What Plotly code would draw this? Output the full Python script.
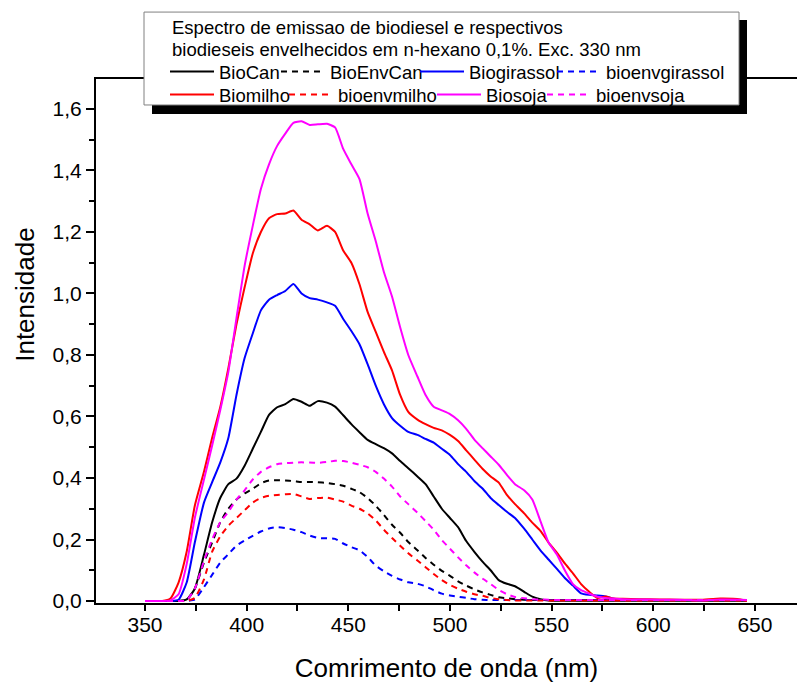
import plotly.graph_objects as go

# Wavelength grid (nm)
wavelength = [350, 354.5, 358.5, 362.5, 366.5, 370.5, 374.5, 379, 383, 387,
              391, 395, 399, 403, 407, 411, 415, 419, 423, 427,
              431, 435, 439.5, 443.5, 447.5, 451.5, 455.5, 459.5, 463.5, 467.5,
              471.5, 475.5, 479.5, 484, 488, 492, 496, 500, 504, 508,
              512, 516, 520, 524, 528, 532, 536.5, 540.5, 544.5, 548.5,
              552.5, 556.5, 560.5, 564.5, 568.5, 572.5, 576.5, 580.5, 585, 593,
              603, 613, 623, 633, 643, 646]

BioCan = [0, 0, 0, 0, 0, 0.005, 0.04, 0.15, 0.255, 0.335,
          0.38, 0.398, 0.44, 0.495, 0.55, 0.605, 0.63, 0.64, 0.657, 0.648,
          0.635, 0.65, 0.645, 0.632, 0.604, 0.575, 0.549, 0.524, 0.51, 0.497,
          0.48, 0.455, 0.432, 0.405, 0.38, 0.34, 0.30, 0.27, 0.24, 0.195,
          0.16, 0.128, 0.10, 0.068, 0.056, 0.048, 0.03, 0.014, 0.006, 0.002,
          0.001, 0.001, 0.001, 0.001, 0.001, 0.001, 0.001, 0.001, 0.001, 0.001,
          0.001, 0.001, 0.001, 0.001, 0.001, 0.001]

BioEnvCan = [0, 0, 0, 0, 0, 0.003, 0.04, 0.125, 0.19, 0.256,
             0.30, 0.33, 0.35, 0.365, 0.383, 0.392, 0.393, 0.392, 0.39, 0.387,
             0.387, 0.386, 0.384, 0.38, 0.375, 0.365, 0.354, 0.335, 0.31, 0.28,
             0.248, 0.222, 0.192, 0.165, 0.14, 0.118, 0.098, 0.082, 0.064, 0.05,
             0.038, 0.028, 0.02, 0.012, 0.009, 0.006, 0.004, 0.003, 0.003, 0.003,
             0.003, 0.003, 0.003, 0.003, 0.003, 0.003, 0.003, 0.003, 0.003, 0.003,
             0.003, 0.003, 0.003, 0.003, 0.003, 0.003]

Biogirassol = [0, 0, 0, 0, 0.004, 0.06, 0.19, 0.32, 0.386, 0.45,
               0.53, 0.67, 0.79, 0.87, 0.945, 0.98, 0.995, 1.008, 1.031, 1.0,
               0.985, 0.98, 0.971, 0.96, 0.917, 0.878, 0.835, 0.77, 0.70, 0.64,
               0.595, 0.57, 0.55, 0.54, 0.527, 0.515, 0.495, 0.475, 0.445, 0.42,
               0.39, 0.366, 0.335, 0.312, 0.29, 0.27, 0.235, 0.20, 0.165, 0.135,
               0.105, 0.075, 0.05, 0.025, 0.02, 0.018, 0.015, 0.007, 0.005, 0.004,
               0.003, 0.003, 0.003, 0.003, 0.003, 0.003]

bioenvgirassol = [0, 0, 0, 0, 0, 0, 0.005, 0.045, 0.085, 0.125,
                  0.152, 0.18, 0.197, 0.212, 0.226, 0.236, 0.24, 0.237, 0.232, 0.224,
                  0.213, 0.205, 0.204, 0.202, 0.187, 0.175, 0.165, 0.143, 0.115, 0.097,
                  0.082, 0.07, 0.061, 0.056, 0.048, 0.035, 0.024, 0.018, 0.014, 0.01,
                  0.006, 0.004, 0.003, 0.003, 0.003, 0.003, 0.003, 0.003, 0.003, 0.003,
                  0.003, 0.003, 0.003, 0.003, 0.003, 0.003, 0.003, 0.003, 0.003, 0.003,
                  0.003, 0.003, 0.003, 0.003, 0.003, 0.003]

Biomilho = [0, 0, 0, 0.008, 0.06, 0.16, 0.31, 0.42, 0.53, 0.63,
            0.757, 0.90, 1.02, 1.13, 1.20, 1.245, 1.258, 1.26, 1.27, 1.24,
            1.225, 1.205, 1.22, 1.20, 1.14, 1.10, 1.03, 0.94, 0.875, 0.81,
            0.75, 0.67, 0.615, 0.59, 0.575, 0.563, 0.555, 0.54, 0.52, 0.49,
            0.46, 0.43, 0.405, 0.385, 0.345, 0.315, 0.285, 0.255, 0.228, 0.19,
            0.158, 0.122, 0.09, 0.055, 0.03, 0.01, 0.015, 0.008, 0.007, 0.006,
            0.005, 0.004, 0.004, 0.008, 0.005, 0.0]

bioenvmilho = [0, 0, 0, 0, 0, 0, 0.01, 0.07, 0.16, 0.21,
               0.245, 0.27, 0.295, 0.32, 0.335, 0.342, 0.345, 0.347, 0.348, 0.34,
               0.332, 0.335, 0.336, 0.33, 0.323, 0.31, 0.30, 0.285, 0.262, 0.232,
               0.205, 0.18, 0.155, 0.132, 0.11, 0.088, 0.068, 0.052, 0.04, 0.03,
               0.022, 0.017, 0.01, 0.006, 0.003, 0.002, 0.002, 0.002, 0.002, 0.002,
               0.002, 0.002, 0.002, 0.002, 0.002, 0.002, 0.002, 0.002, 0.002, 0.002,
               0.002, 0.002, 0.002, 0.002, 0.002, 0.002]

Biosoja = [0, 0, 0, 0.002, 0.022, 0.12, 0.27, 0.395, 0.505, 0.62,
           0.745, 0.92, 1.09, 1.22, 1.34, 1.42, 1.48, 1.52, 1.555, 1.56,
           1.548, 1.55, 1.552, 1.54, 1.47, 1.42, 1.372, 1.26, 1.17, 1.07,
           0.99, 0.89, 0.80, 0.73, 0.67, 0.632, 0.62, 0.608, 0.588, 0.56,
           0.525, 0.497, 0.47, 0.443, 0.41, 0.38, 0.36, 0.33, 0.26, 0.19,
           0.152, 0.10, 0.055, 0.035, 0.024, 0.014, 0.01, 0.008, 0.006, 0.005,
           0.004, 0.004, 0.002, 0.005, 0.004, 0.003]

bioenvsoja = [0, 0, 0, 0, 0, 0.003, 0.04, 0.13, 0.20, 0.256,
              0.29, 0.33, 0.36, 0.395, 0.42, 0.435, 0.445, 0.448, 0.45, 0.451,
              0.45, 0.449, 0.452, 0.456, 0.455, 0.45, 0.443, 0.435, 0.42, 0.398,
              0.372, 0.34, 0.315, 0.287, 0.26, 0.232, 0.198, 0.17, 0.142, 0.116,
              0.093, 0.073, 0.055, 0.036, 0.022, 0.013, 0.009, 0.006, 0.005, 0.004,
              0.003, 0.003, 0.003, 0.003, 0.003, 0.003, 0.003, 0.003, 0.003, 0.003,
              0.003, 0.003, 0.003, 0.003, 0.003, 0.003]

legend_title = ["Espectro de emissao de biodiesel e respectivos",
                "biodieseis envelhecidos em n-hexano 0,1%. Exc. 330 nm"]
x_title = "Comrimento de onda (nm)"
y_title = "Intensidade"

# name, values, colour, dash, legend-entry position in the box (line start px, row centre px)
series = [
    ("BioCan", BioCan, "#000000", "solid", 171, 71),
    ("BioEnvCan", BioEnvCan, "#000000", "6px,5px", 282, 71),
    ("Biogirassol", Biogirassol, "#0000FF", "solid", 421, 71),
    ("bioenvgirassol", bioenvgirassol, "#0000FF", "6px,5px", 558, 71),
    ("Biomilho", Biomilho, "#FF0000", "solid", 171, 94),
    ("bioenvmilho", bioenvmilho, "#FF0000", "6px,5px", 290, 94),
    ("Biosoja", Biosoja, "#FF00FF", "solid", 438, 94),
    ("bioenvsoja", bioenvsoja, "#FF00FF", "6px,5px", 548, 94),
]

FONT = "Liberation Sans, Arial, sans-serif"

W, H = 797, 683
L, R, T, B = 96, 0, 79, 79.5
pw, ph = W - L - R, H - T - B


def px_x(p):
    return (p - L) / pw


def px_y(p):
    return (H - B - p) / ph


legend_font = dict(family=FONT, size=18.5, color="black")
title_font = dict(family=FONT, size=26, color="black")

fig = go.Figure()
legends = {}
for i, (name, vals, color, dash, lx, ly) in enumerate(series):
    key = "legend" if i == 0 else "legend%d" % (i + 1)
    fig.add_trace(go.Scatter(
        x=wavelength, y=vals, name=name, mode="lines",
        line=dict(color=color, width=2, dash=dash, shape="spline", smoothing=0.5),
        legend=key,
    ))
    legends[key] = dict(
        orientation="h", x=px_x(lx - 6), y=px_y(ly - 18), xanchor="left", yanchor="top",
        bgcolor="rgba(0,0,0,0)", borderwidth=0, font=legend_font, itemwidth=44,
    )

fig.update_layout(
    width=W, height=H,
    margin=dict(l=L, r=R, t=T, b=B, pad=0, autoexpand=False),
    paper_bgcolor="white", plot_bgcolor="white",
    separators=", ",
    font=dict(family=FONT, color="black"),
    showlegend=True,
    xaxis=dict(
        range=[325.9, 670.7], showline=True, linecolor="black", linewidth=2, mirror=True,
        ticks="outside", ticklen=6, tickwidth=2, tickcolor="black",
        tick0=350, dtick=50, showgrid=False, zeroline=False,
        minor=dict(dtick=25, ticks="outside", ticklen=6, tickwidth=2, tickcolor="black", showgrid=False),
        tickfont=dict(family=FONT, size=21, color="black"), ticklabelstandoff=-4,
        title=dict(text=x_title, font=title_font, standoff=24),
    ),
    yaxis=dict(
        range=[-0.0065, 1.6975], showline=True, linecolor="black", linewidth=2, mirror=False,
        ticks="outside", ticklen=8, tickwidth=2, tickcolor="black",
        tick0=0, dtick=0.2, tickformat=".1f", showgrid=False, zeroline=False,
        minor=dict(dtick=0.1, ticks="outside", ticklen=5, tickwidth=2, tickcolor="black", showgrid=False),
        tickfont=dict(family=FONT, size=21, color="black"),
    ),
    shapes=[
        dict(type="rect", xref="paper", yref="paper", layer="above",
             x0=px_x(152), x1=px_x(747), y0=px_y(114), y1=px_y(20),
             fillcolor="black", line=dict(width=0)),
        dict(type="rect", xref="paper", yref="paper", layer="above",
             x0=px_x(144), x1=px_x(739), y0=px_y(105), y1=px_y(12),
             fillcolor="white", line=dict(color="#808080", width=1)),
    ],
    annotations=[
        dict(text=legend_title[0], xref="paper", yref="paper", x=px_x(170), y=px_y(27),
             xanchor="left", yanchor="middle", showarrow=False, font=legend_font),
        dict(text=legend_title[1], xref="paper", yref="paper", x=px_x(170), y=px_y(49),
             xanchor="left", yanchor="middle", showarrow=False, font=legend_font),
        dict(text=y_title, xref="paper", yref="paper", x=px_x(25), y=px_y(295),
             xanchor="center", yanchor="middle", textangle=-90, showarrow=False, font=title_font),
    ],
    **legends,
)

fig.write_html("out.html", config={"displayModeBar": False},
               post_script="document.body.style.margin='0px';")
